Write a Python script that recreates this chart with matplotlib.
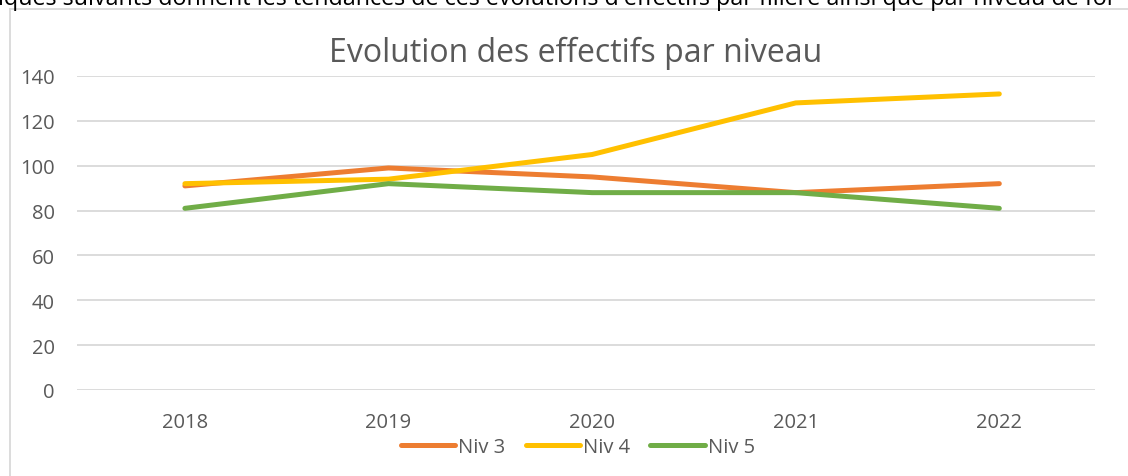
import matplotlib.pyplot as plt
from matplotlib.lines import Line2D

# data
years = ['2018', '2019', '2020', '2021', '2022']
niv3 = [91, 99, 95, 88, 92]
niv4 = [92, 94, 105, 128, 132]
niv5 = [81, 92, 88, 88, 81]
yticks = [0, 20, 40, 60, 80, 100, 120, 140]

W, H = 1128, 477
plt.rcParams['font.family'] = ['Open Sans', 'DejaVu Sans']

fig = plt.figure(figsize=(W / 100, H / 100), dpi=100)
ax = fig.add_axes([77 / W, 1 - 391 / H, (1095 - 77) / W, (391 - 77) / H])

x = list(range(len(years)))
grey = '#595959'
ax.plot(x, niv3, color='#ED7D31', lw=3.6, solid_capstyle='round', solid_joinstyle='round', label='Niv 3')
ax.plot(x, niv4, color='#FFC000', lw=3.6, solid_capstyle='round', solid_joinstyle='round', label='Niv 4')
ax.plot(x, niv5, color='#70AD47', lw=3.6, solid_capstyle='round', solid_joinstyle='round', label='Niv 5')

ax.set_xlim(-0.53, 4.47)
ax.set_ylim(0, 140)
ax.set_xticks(x)
ax.set_xticklabels(years)
ax.set_yticks(yticks)
ax.grid(axis='y', color='#D9D9D9', lw=1.3)
ax.set_axisbelow(True)
for s in ax.spines.values():
    s.set_visible(False)
ax.tick_params(length=0, labelsize=14.5, labelcolor=grey)
ax.tick_params(axis='x', pad=16)
ax.tick_params(axis='y', pad=16)

fig.text(576 / W, 1 - 62 / H, 'Evolution des effectifs par niveau', ha='center', va='baseline',
         fontsize=23, color=grey)

leg = fig.legend(loc='center', bbox_to_anchor=(578 / W, 1 - 448 / H), ncol=3, frameon=False,
                 fontsize=14.5, handlelength=2.7, handletextpad=0.15, columnspacing=1.0)
for t in leg.get_texts():
    t.set_color(grey)

# frame of the embedded chart and the cut-off document line above it
fig.add_artist(Line2D([10 / W, 10 / W], [0, 1 - 10 / H], color='#D9D9D9', lw=1.3))
fig.add_artist(Line2D([10 / W, 1], [1 - 10 / H, 1 - 10 / H], color='#D9D9D9', lw=1.3))
fig.text(-2 / W, 1 - 5 / H, "iques suivants donnent les tendances de ces évolutions d'effectifs par filière ainsi que par niveau de for",
         ha='left', va='baseline', fontsize=16.8, color='black')

fig.savefig('out.png', dpi=100)
